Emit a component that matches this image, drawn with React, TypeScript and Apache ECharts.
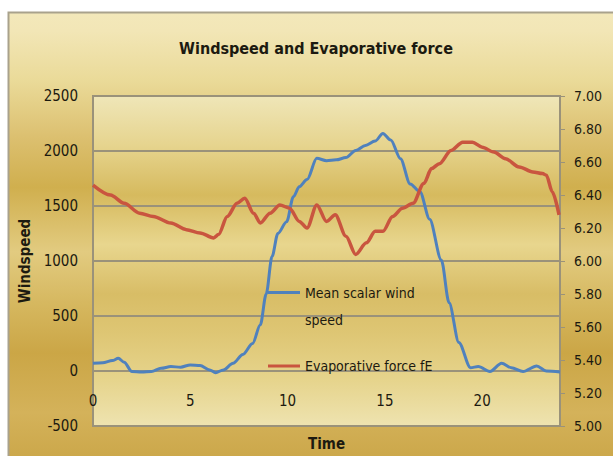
import React, { useEffect, useRef } from "react";
import * as echarts from "echarts";

const windTime = [0, 0.5, 1.0, 1.3, 1.6, 2.0, 2.5, 3.0, 3.5, 4.0, 4.5, 5.0, 5.5, 6.0, 6.3, 6.7, 7.2, 7.7, 8.2, 8.6, 8.9, 9.2, 9.5, 9.95, 10.3, 10.6, 11.0, 11.5, 12.0, 12.5, 13.0, 13.5, 14.0, 14.5, 14.9, 15.3, 15.8, 16.3, 16.8, 17.3, 17.9, 18.3, 18.8, 19.4, 19.8, 20.4, 21.0, 21.5, 22.1, 22.8, 23.3, 24.0];
const windSpeed = [70, 75, 95, 115, 80, -5, -10, -5, 25, 40, 35, 55, 50, 10, -15, 10, 70, 150, 250, 420, 700, 1040, 1250, 1357, 1585, 1675, 1740, 1933, 1912, 1920, 1940, 2005, 2050, 2090, 2160, 2100, 1930, 1700, 1630, 1380, 1010, 620, 260, 30, 40, -5, 70, 30, -5, 45, 0, -10];

const evapTime = [0, 0.9, 1.6, 2.4, 3.1, 4.0, 4.8, 5.5, 6.2, 6.45, 6.9, 7.4, 7.8, 8.25, 8.6, 9.1, 9.6, 10.1, 10.6, 11.0, 11.5, 12.0, 12.45, 13.0, 13.5, 14.05, 14.5, 14.9, 15.4, 15.9, 16.45, 17.0, 17.4, 17.8, 18.4, 19.0, 19.5, 20.0, 20.6, 21.2, 21.9, 22.6, 23.1, 23.3, 23.6, 23.95];
const evapForce = [6.46, 6.40, 6.35, 6.29, 6.27, 6.23, 6.19, 6.17, 6.14, 6.16, 6.27, 6.35, 6.38, 6.29, 6.23, 6.29, 6.34, 6.32, 6.24, 6.20, 6.34, 6.24, 6.28, 6.15, 6.04, 6.11, 6.18, 6.18, 6.27, 6.32, 6.35, 6.47, 6.56, 6.59, 6.67, 6.72, 6.72, 6.69, 6.66, 6.62, 6.57, 6.54, 6.53, 6.52, 6.42, 6.28];

const xTicks = { min: 0, max: 24, interval: 5 };
const leftTicks = { min: -500, max: 2500, interval: 500 };
const rightTicks = { min: 5, max: 7, interval: 0.2 };

const titleText = "Windspeed and Evaporative force";
const windName = "Mean scalar wind speed";
const evapName = "Evaporative force fE";

const FONT = "'DejaVu Sans Condensed', 'Liberation Sans Narrow', 'Open Sans', sans-serif";
const INK = "#1c1a10";
const GRIDC = "#9A927A";

export default function App() {
  const ref = useRef<HTMLDivElement>(null);
  useEffect(() => {
    document.body.style.margin = "0";
    if (!ref.current) return;
    const chart = echarts.init(ref.current, null, { renderer: "svg" });
    const grad = (stops: [number, string][]) =>
      new echarts.graphic.LinearGradient(0, 0, 0, 1, stops.map(([offset, color]) => ({ offset, color })));
    chart.setOption({
      animation: false,
      textStyle: { fontFamily: FONT },
      graphic: [
        {
          type: "rect",
          z: -100,
          shape: { x: 8.5, y: 12.5, width: 620, height: 460 },
          style: {
            fill: grad([
              [0, "#F3E8BA"],
              [0.04, "#F2E6B6"],
              [0.15, "#EADA98"],
              [0.27, "#DCC070"],
              [0.38, "#D0AF4E"],
              [0.52, "#E2CB80"],
              [0.63, "#D6B860"],
              [0.74, "#CBA646"],
              [0.87, "#D4B25A"],
              [1, "#C9A445"],
            ]),
            stroke: "#A9A28C",
            lineWidth: 2,
          },
        },
      ],
      title: {
        text: titleText,
        left: 311,
        top: 35,
        textAlign: "center",
        textStyle: { fontFamily: FONT, fontSize: 16, fontWeight: "bold", color: INK },
      },
      grid: {
        left: 93,
        right: 53,
        top: 96,
        bottom: 30,
        containLabel: false,
        outerBoundsMode: "none",
        show: true,
        borderColor: GRIDC,
        borderWidth: 2,
        backgroundColor: grad([
          [0, "#EFE6B8"],
          [0.15, "#E6D48E"],
          [0.3, "#D6BA5E"],
          [0.45, "#E8D68E"],
          [0.6, "#D8BD66"],
          [0.72, "#DEC674"],
          [0.86, "#E6D48C"],
          [1, "#EEE3B0"],
        ]),
      },
      legend: [
        {
          data: [windName],
          orient: "vertical",
          left: 268,
          top: 252,
          padding: 0,
          itemWidth: 32,
          itemHeight: 3,
          icon: "rect",
          formatter: () => "\nMean scalar wind\nspeed",
          textStyle: { fontFamily: FONT, fontSize: 14, color: INK, lineHeight: 27 },
        },
        {
          data: [evapName],
          orient: "vertical",
          left: 268,
          top: 359,
          padding: 0,
          itemWidth: 32,
          itemHeight: 3,
          icon: "rect",
          textStyle: { fontFamily: FONT, fontSize: 14, color: INK },
        },
      ],
      xAxis: {
        type: "value",
        position: "bottom",
        min: xTicks.min,
        max: xTicks.max,
        interval: xTicks.interval,
        name: "Time",
        nameLocation: "middle",
        nameGap: 10,
        nameTextStyle: { fontFamily: FONT, fontSize: 15, fontWeight: "bold", color: INK },
        axisLine: { show: true, onZero: false, lineStyle: { color: GRIDC, width: 2 } },
        axisTick: { show: false },
        axisLabel: {
          inside: true,
          margin: 18,
          showMaxLabel: false,
          fontFamily: FONT,
          fontSize: 15,
          color: INK,
        },
        splitLine: { show: false },
      },
      yAxis: [
        {
          type: "value",
          min: leftTicks.min,
          max: leftTicks.max,
          interval: leftTicks.interval,
          name: "Windspeed",
          nameLocation: "middle",
          nameGap: 57,
          nameRotate: 90,
          nameTextStyle: { fontFamily: FONT, fontSize: 15, fontWeight: "bold", color: INK },
          axisLine: { show: true, onZero: false, lineStyle: { color: GRIDC, width: 2 } },
          axisTick: { show: false },
          axisLabel: {
            margin: 15,
            fontFamily: FONT,
            fontSize: 15,
            color: INK,
            formatter: (v: number) => String(v),
          },
          splitLine: { show: true, lineStyle: { color: GRIDC, width: 2 } },
        },
        {
          type: "value",
          min: rightTicks.min,
          max: rightTicks.max,
          interval: rightTicks.interval,
          position: "right",
          axisLine: { show: true, onZero: false, lineStyle: { color: GRIDC, width: 2 } },
          axisTick: { show: true, inside: false, length: 5, lineStyle: { color: GRIDC, width: 1 } },
          axisLabel: {
            margin: 14,
            fontFamily: FONT,
            fontSize: 14,
            color: INK,
            formatter: (v: number) => v.toFixed(2),
          },
          splitLine: { show: false },
        },
      ],
      series: [
        {
          name: windName,
          type: "line",
          yAxisIndex: 0,
          data: windTime.map((t, i) => [t, windSpeed[i]]),
          showSymbol: false,
          smooth: 0.3,
          smoothMonotone: "x",
          lineStyle: { color: "#4F81BD", width: 3 },
          itemStyle: { color: "#4F81BD" },
        },
        {
          name: evapName,
          type: "line",
          yAxisIndex: 1,
          data: evapTime.map((t, i) => [t, evapForce[i]]),
          showSymbol: false,
          smooth: 0.3,
          smoothMonotone: "x",
          lineStyle: { color: "#C9553F", width: 3.5 },
          itemStyle: { color: "#C9553F" },
        },
      ],
    });
    return () => chart.dispose();
  }, []);
  return <div ref={ref} style={{ width: 613, height: 456 }} />;
}
